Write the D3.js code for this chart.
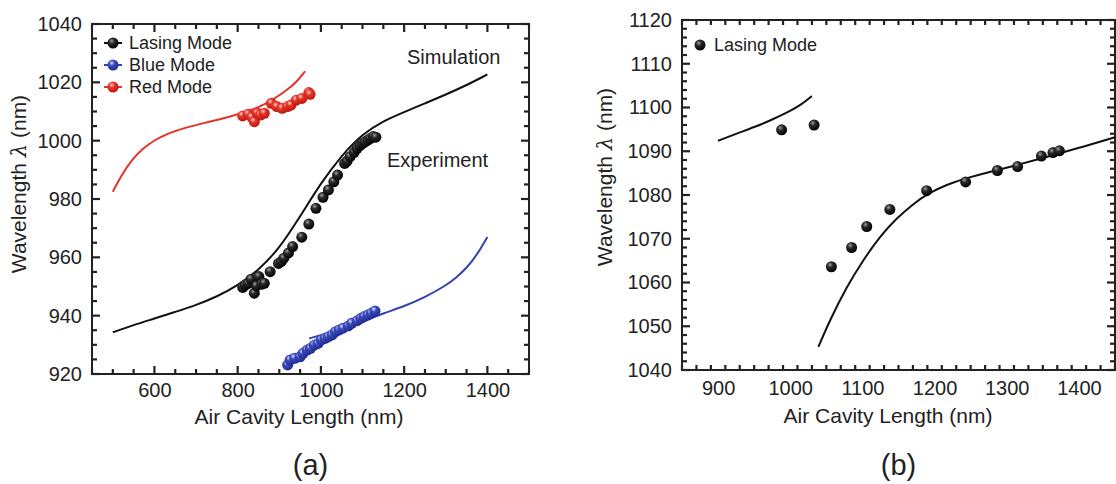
<!DOCTYPE html>
<html>
<head>
<meta charset="utf-8">
<script src="https://cdn.jsdelivr.net/npm/d3@7"></script>
<style>
body{margin:0;background:#fff;}
text{font-family:"Liberation Sans", Arial, sans-serif; fill:#222;}
</style>
</head>
<body>
<svg id="chart" width="1116" height="484"></svg>
<script>
// ---- panel (a) data ----
var simLasingX = [500, 550, 600, 650, 700, 750, 800, 850, 900, 950, 1000, 1050, 1100, 1150, 1200, 1250, 1300, 1350, 1400];
var simLasingY = [934.3, 936.8, 939.0, 941.3, 943.6, 946.5, 950.3, 955.6, 963.0, 974.0, 985.5, 995.0, 1002.3, 1006.8, 1009.8, 1012.8, 1015.8, 1019.0, 1022.7];
var simRedX = [500, 520, 546, 572, 598, 632, 675, 727, 778, 812, 847, 881, 915, 941, 962];
var simRedY = [982.5, 988.0, 993.5, 997.3, 1000.0, 1002.5, 1004.5, 1006.3, 1008.1, 1009.5, 1011.2, 1013.7, 1017.0, 1020.0, 1023.8];
var simBlueX = [972, 1000, 1050, 1100, 1150, 1200, 1250, 1300, 1325, 1350, 1375, 1400];
var simBlueY = [932.2, 933.3, 935.4, 938.0, 940.8, 943.2, 946.3, 950.3, 953.0, 956.3, 960.8, 967.0];

var expLasingX = [812, 818, 825, 832, 840, 845, 851, 858, 864, 878, 898, 905, 911, 922, 932, 954, 971, 988, 1005, 1018, 1031, 1040, 1057, 1063, 1070, 1080, 1087, 1094, 1100, 1106, 1113, 1119, 1126, 1132];
var expLasingY = [949.7, 950.5, 951.1, 952.5, 947.7, 950.2, 953.4, 950.8, 951.1, 955.1, 957.9, 958.6, 959.7, 961.5, 963.7, 966.9, 971.4, 976.8, 980.6, 983.1, 985.9, 988.2, 992.2, 993.0, 994.5, 996.0, 997.4, 998.3, 999.1, 999.6, 1000.2, 1000.8, 1001.4, 1001.2];
var expRedX = [812, 825, 834, 840, 847, 855, 864, 881, 894, 907, 920, 928, 941, 954, 971, 974];
var expRedY = [1008.5, 1009.1, 1008.0, 1006.5, 1009.4, 1008.8, 1009.4, 1012.8, 1011.7, 1011.1, 1011.7, 1012.2, 1013.9, 1014.5, 1016.5, 1015.9];
var expBlueX = [920, 926, 937, 950, 957, 967, 975, 984, 993, 1001, 1010, 1018, 1027, 1035, 1044, 1053, 1066, 1074, 1087, 1096, 1104, 1113, 1121, 1130];
var expBlueY = [923.1, 924.8, 925.4, 925.9, 927.1, 928.2, 928.8, 929.9, 930.5, 931.7, 932.2, 932.8, 933.4, 934.5, 935.1, 935.7, 936.5, 937.4, 938.3, 939.1, 939.7, 940.2, 940.8, 941.6];

// ---- panel (b) data ----
var simUpperX = [900, 925, 950, 975, 1000, 1015, 1030];
var simUpperY = [1092.4, 1094.0, 1095.5, 1097.2, 1099.2, 1100.6, 1102.6];
var simLowerX = [1039, 1055, 1078, 1101, 1124, 1148, 1171, 1189, 1217, 1245, 1272, 1309, 1355, 1401, 1450];
var simLowerY = [1045.3, 1051.4, 1059.0, 1065.1, 1070.5, 1074.8, 1078.0, 1080.2, 1082.4, 1083.9, 1085.1, 1086.6, 1088.7, 1090.8, 1093.2];
var expBX = [988, 1033, 1057, 1085, 1106, 1138, 1189, 1243, 1287, 1315, 1348, 1364, 1373];
var expBY = [1094.9, 1096.0, 1063.6, 1068.0, 1072.8, 1076.7, 1081.0, 1083.0, 1085.6, 1086.5, 1088.9, 1089.7, 1090.1];

var legendA = ["Lasing Mode", "Blue Mode", "Red Mode"];
var colorsA = ["#111", "#3443b0", "#e5322a"];

var svg = d3.select("#chart");
svg.append("rect").attr("width", 1116).attr("height", 484).attr("fill", "#fff");

// sphere look for the markers
var defs = svg.append("defs");
function sphere(id, light, mid, dark){
  var g = defs.append("radialGradient").attr("id", id)
    .attr("cx", "38%").attr("cy", "32%").attr("r", "70%");
  g.append("stop").attr("offset", "0%").attr("stop-color", light);
  g.append("stop").attr("offset", "35%").attr("stop-color", mid);
  g.append("stop").attr("offset", "100%").attr("stop-color", dark);
}
sphere("gBlack", "#a0a0a0", "#2a2a2a", "#000");
sphere("gRed", "#ffd6cf", "#e8362b", "#b8160d");
sphere("gBlue", "#dfe3ff", "#3d4cc0", "#1e2a8a");

function toPts(xs, ys){ return xs.map((v, i) => [v, ys[i]]); }

function drawPanel(p){
  var g = svg.append("g");
  var x = d3.scaleLinear().domain(p.xd).range([p.x0, p.x1]);
  var y = d3.scaleLinear().domain(p.yd).range([p.y0, p.y1]);

  g.append("rect").attr("x", p.x0).attr("y", p.y1)
    .attr("width", p.x1 - p.x0).attr("height", p.y0 - p.y1)
    .attr("fill", "none").attr("stroke", "#222").attr("stroke-width", 2);

  // inward ticks on all four sides, drawn as plain lines
  var minorX = d3.range(p.xd[0], p.xd[1] + 0.001, p.xMinor);
  var minorY = d3.range(p.yd[0], p.yd[1] + 0.001, p.yMinor);
  var tk = [];
  minorX.forEach(v => {
    var len = p.xMajor.indexOf(v) >= 0 ? 8 : 5;
    tk.push([x(v), p.y0, x(v), p.y0 - len], [x(v), p.y1, x(v), p.y1 + len]);
  });
  minorY.forEach(v => {
    var len = p.yMajor.indexOf(v) >= 0 ? 8 : 5;
    tk.push([p.x0, y(v), p.x0 + len, y(v)], [p.x1, y(v), p.x1 - len, y(v)]);
  });
  g.append("g").selectAll("line").data(tk).join("line")
    .attr("x1", d => d[0]).attr("y1", d => d[1]).attr("x2", d => d[2]).attr("y2", d => d[3])
    .attr("stroke", "#222").attr("stroke-width", 2.2);

  var ax = g.append("g").attr("transform", "translate(0," + p.y0 + ")")
    .call(d3.axisBottom(x).tickValues(p.xMajor).tickSize(0).tickPadding(p.xPad).tickFormat(d3.format("d")));
  var ay = g.append("g").attr("transform", "translate(" + p.x0 + ",0)")
    .call(d3.axisLeft(y).tickValues(p.yMajor).tickSize(0).tickPadding(10).tickFormat(d3.format("d")));
  [ax, ay].forEach(a => {
    a.select(".domain").remove();
    a.selectAll("line").remove();
    a.selectAll("text").attr("font-size", 20).attr("font-family", "Liberation Sans, Arial, sans-serif").attr("fill", "#222");
  });

  // titles
  g.append("text").attr("x", p.xtX).attr("y", p.xtY).attr("text-anchor", "middle")
    .attr("font-size", 21).text("Air Cavity Length (nm)");
  var yt = g.append("text").attr("transform", "translate(" + p.ytX + "," + p.ytY + ") rotate(-90)")
    .attr("text-anchor", "middle").attr("font-size", 21);
  yt.append("tspan").text("Wavelength ");
  yt.append("tspan").attr("font-style", "italic").attr("font-family", "DejaVu Serif, serif").text("λ");
  yt.append("tspan").text(" (nm)");
  g.append("text").attr("x", (p.x0 + p.x1) / 2).attr("y", 475).attr("text-anchor", "middle")
    .attr("font-size", 29).text(p.tag);

  var line = d3.line().x(d => x(d[0])).y(d => y(d[1])).curve(d3.curveBasis);
  p.lines.forEach(l => {
    g.append("path").datum(l.pts).attr("d", line)
      .attr("fill", "none").attr("stroke", l.color).attr("stroke-width", 2);
  });
  p.dots.forEach(s => {
    g.append("g").selectAll("circle").data(s.pts).join("circle")
      .attr("cx", d => x(d[0])).attr("cy", d => y(d[1])).attr("r", 5.5)
      .attr("fill", "url(#" + s.grad + ")");
  });
  return g;
}

var gA = drawPanel({
  xd: [450, 1500], yd: [920, 1040], x0: 92, x1: 529, y0: 374, y1: 24,
  xMajor: [600, 800, 1000, 1200, 1400],
  yMajor: [920, 940, 960, 980, 1000, 1020, 1040], xMinor: 50, yMinor: 5, xPad: 9,
  xtX: 299, xtY: 424, ytX: 26, ytY: 184, tag: "(a)",
  lines: [
    {pts: toPts(simLasingX, simLasingY), color: "#111"},
    {pts: toPts(simRedX, simRedY), color: "#e5322a"},
    {pts: toPts(simBlueX, simBlueY), color: "#3443b0"}
  ],
  dots: [
    {pts: toPts(expRedX, expRedY), grad: "gRed"},
    {pts: toPts(expBlueX, expBlueY), grad: "gBlue"},
    {pts: toPts(expLasingX, expLasingY), grad: "gBlack"}
  ]
});
gA.append("text").attr("x", 407).attr("y", 64).attr("font-size", 20).text("Simulation");
gA.append("text").attr("x", 387).attr("y", 167).attr("font-size", 20).text("Experiment");

// legend (a)
var grads = ["gBlack", "gBlue", "gRed"];
var leg = gA.append("g").selectAll("g").data(legendA).join("g")
  .attr("transform", (d, i) => "translate(113," + (43 + i * 22) + ")");
leg.append("line").attr("x1", -9).attr("x2", 9).attr("stroke", (d, i) => colorsA[i]).attr("stroke-width", 2);
leg.append("circle").attr("r", 5.5).attr("fill", (d, i) => "url(#" + grads[i] + ")");
leg.append("text").attr("x", 16).attr("dy", "0.35em").attr("font-size", 18).text(d => d);

var gB = drawPanel({
  xd: [850, 1450], yd: [1040, 1120], x0: 682, x1: 1115, y0: 370, y1: 20,
  xMajor: [900, 1000, 1100, 1200, 1300, 1400],
  yMajor: [1040, 1050, 1060, 1070, 1080, 1090, 1100, 1110, 1120], xMinor: 20, yMinor: 2, xPad: 11,
  xtX: 888, xtY: 423, ytX: 612, ytY: 177, tag: "(b)",
  lines: [
    {pts: toPts(simUpperX, simUpperY), color: "#111"},
    {pts: toPts(simLowerX, simLowerY), color: "#111"}
  ],
  dots: [
    {pts: toPts(expBX, expBY), grad: "gBlack"}
  ]
});
gB.append("circle").attr("cx", 700).attr("cy", 45).attr("r", 5.5).attr("fill", "url(#gBlack)");
gB.append("text").attr("x", 714).attr("y", 45).attr("dy", "0.35em").attr("font-size", 18).text("Lasing Mode");
</script>
</body>
</html>
